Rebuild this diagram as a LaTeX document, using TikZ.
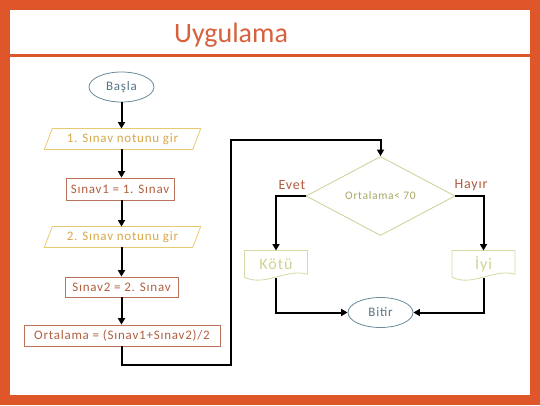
\documentclass[tikz,border=0pt]{standalone}
\usepackage{fontspec}
\setmainfont{Carlito}
\newfontfamily\diagfont[LetterSpace=6]{Carlito}
\usetikzlibrary{arrows.meta,shapes.geometric}
\definecolor{framec}{HTML}{E0562B}
\definecolor{titlec}{HTML}{D8603C}
\definecolor{ellc}{HTML}{6B8B9B}
\definecolor{elltxt}{HTML}{557585}
\definecolor{parac}{HTML}{E8CA72}
\definecolor{paratxt}{HTML}{D9A848}
\definecolor{rectc}{HTML}{B8735A}
\definecolor{recttxt}{HTML}{B0603F}
\definecolor{diac}{HTML}{CFCF95}
\definecolor{diatxt}{HTML}{A8A866}
\definecolor{docc}{HTML}{D9D9A6}
\definecolor{doctxt}{HTML}{D2D292}
\definecolor{labc}{HTML}{B45A40}
\tikzset{
  fs/.style={font=\diagfont\fontsize{#1}{#1}\selectfont},
  term/.style={ellipse, draw=ellc, line width=0.8pt, text=elltxt, minimum width=65pt, minimum height=30pt, inner sep=0pt, fs=13},
  paranode/.style={inner sep=0pt, minimum width=148pt, minimum height=20.5pt, text=paratxt, fs=13},
  paraline/.style={draw=parac, line width=0.8pt},
  proc/.style={draw=rectc, line width=0.8pt, text=recttxt, inner sep=0pt, fs=13},
  decis/.style={diamond, aspect=2, draw=diac, line width=0.8pt, text=diatxt, inner sep=0pt, minimum width=149pt, minimum height=79pt, fs=11.5},
  docnode/.style={inner sep=0pt, minimum width=62.6pt, minimum height=27.3pt, text=doctxt, fs=16},
  docline/.style={draw=docc, line width=0.8pt},
  lab/.style={text=labc, inner sep=0pt, fs=14},
  arr/.style={line width=2pt, -{Triangle[width=7pt,length=6.5pt]}},
  plain/.style={line width=2pt}
}
\begin{document}
\begin{tikzpicture}[x=1pt,y=-1pt]
\useasboundingbox (0,0) rectangle (540,405);
\fill[framec] (0,0) rectangle (540,405);
\fill[white] (10,10) rectangle (530,395);
\draw[framec, line width=3pt] (10,55) -- (530,55);
\node[anchor=base, text=titlec, inner sep=0pt, font=\fontsize{28}{32}\selectfont] (title) at (231,42) {Uygulama};

% left column
\node[term] (basla) at (121.5,87) {Başla};
\node[paranode] (in1) at (122.5,139) {1. Sınav notunu gir};
\draw[paraline] ([xshift=4pt]in1.north west) -- ([xshift=4pt]in1.north east) -- ([xshift=-4pt]in1.south east) -- ([xshift=-4pt]in1.south west) -- cycle;
\node[proc, minimum width=108pt, minimum height=22pt] (r1) at (120,189) {Sınav1 = 1. Sınav};
\node[paranode] (in2) at (122.5,237) {2. Sınav notunu gir};
\draw[paraline] ([xshift=4pt]in2.north west) -- ([xshift=4pt]in2.north east) -- ([xshift=-4pt]in2.south east) -- ([xshift=-4pt]in2.south west) -- cycle;
\node[proc, minimum width=113pt, minimum height=20pt] (r2) at (121.5,287) {Sınav2 = 2. Sınav};
\node[proc, minimum width=196pt, minimum height=21pt] (r3) at (122,335.5) {Ortalama = (Sınav1+Sınav2)/2};

\draw[arr] (basla.south) -- (basla.south |- in1.north);
\draw[arr] (in1.south -| basla.south) -- (basla.south |- r1.north);
\draw[arr] (r1.south -| basla.south) -- (basla.south |- in2.north);
\draw[arr] (in2.south -| basla.south) -- (basla.south |- r2.north);
\draw[arr] (r2.south -| basla.south) -- (basla.south |- r3.north);

% right part
\node[decis] (dia) at (380.5,196) {Ortalama< 70};
\coordinate (loopA) at (231,365);
\coordinate (loopB) at (231,140);
\draw[arr] (r3.south -| basla.south) |- (loopA) -- (loopB) -| (dia.north);

\node[lab] (evet) at (292,185) {Evet};
\node[lab] (hayir) at (471,185) {Hayır};

\node[docnode] (kotu) at (276,264.35) {Kötü};
\node[docnode] (iyi) at (483.5,264.35) {İyi};
\draw[docline] (kotu.north west) -- (kotu.north east) -- ([yshift=4pt]kotu.south east) .. controls ([xshift=-21pt,yshift=10pt]kotu.south east) and ([xshift=20pt,yshift=-9pt]kotu.south west) .. ([yshift=1pt]kotu.south west) -- cycle;
\draw[docline] (iyi.north west) -- (iyi.north east) -- ([yshift=4pt]iyi.south east) .. controls ([xshift=-21pt,yshift=10pt]iyi.south east) and ([xshift=20pt,yshift=-9pt]iyi.south west) .. ([yshift=1pt]iyi.south west) -- cycle;

\draw[arr] (dia.west) -| (kotu.north);
\draw[arr] (dia.east) -| (iyi.north);

\node[term] (bitir) at (380.5,312.5) {Bitir};
\draw[arr] (kotu.south) |- (bitir.west);
\draw[arr] (iyi.south) |- (bitir.east);
\end{tikzpicture}
\end{document}
